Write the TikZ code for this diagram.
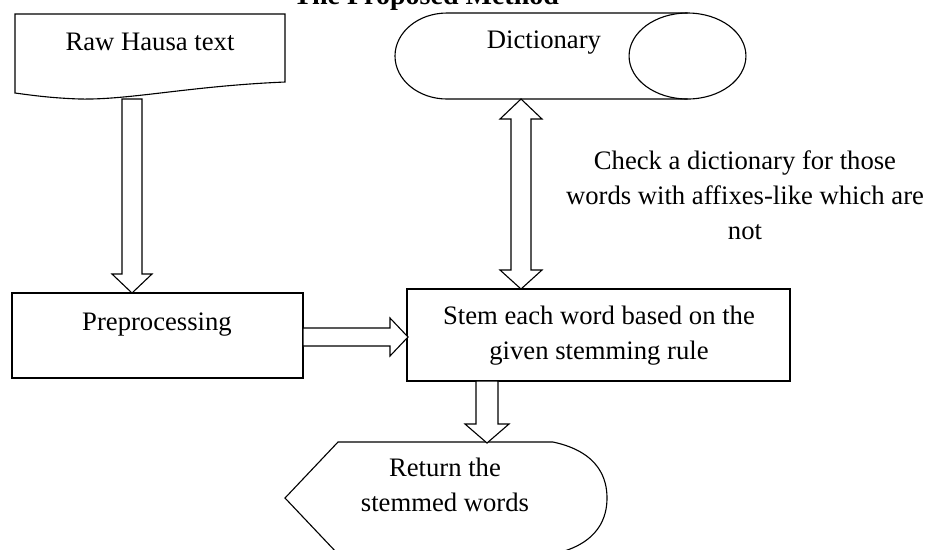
\documentclass[tikz,border=0pt]{standalone}
\usepackage{fontspec}
\setmainfont{Liberation Serif}
\usetikzlibrary{calc}
\begin{document}
\begin{tikzpicture}[x=0.45pt,y=-0.45pt,
  shp/.style={draw=black,line width=0.5pt},
  blk/.style={draw=black,line width=0.5pt,fill=white,line join=miter},
  txt/.style={font=\fontsize{12}{15.75}\selectfont,inner sep=0pt,align=center},
  boxnode/.style={draw=black,line width=0.5pt,inner sep=0pt}]
\useasboundingbox (0,0) rectangle (925,549);
% title (cut off by the page edge)
\node[font=\bfseries\fontsize{12.6}{15}\selectfont,anchor=base west,inner sep=0pt] (title) at (293,4) {The Proposed Method};
% Raw Hausa text (document shape)
\draw[shp] (15,14) -- (285,14) -- (285,82)
  .. controls (190,86) and (130,100) .. (80,99)
  .. controls (50,98) and (30,95) .. (15,93) -- cycle;
\node[txt,anchor=base] (raw) at (150,50) {Raw Hausa text};
% Dictionary (stored data shape)
\draw[shp] (687.5,13) -- (447,13) arc[start angle=90,end angle=270,x radius=23.4pt,y radius=19.35pt] -- (687.5,99);
\draw[shp] (687.5,56) ellipse [x radius=26.3pt,y radius=19.35pt];
\node[txt,anchor=base] (dict) at (544,48) {Dictionary};
% Preprocessing box
\node[boxnode,minimum width=130.95pt,minimum height=38.25pt] (pre) at (157.5,335.5) {};
\node[txt,anchor=base] (pretext) at (157,330) {Preprocessing};
% Stem box
\node[boxnode,minimum width=172.35pt,minimum height=41.4pt] (stem) at (598.5,335) {};
\node[txt] (stemtext) at (599,335.3) {Stem each word based on the\\given stemming rule};
% Check note
\node[txt] (check) at (745,195.4) {Check a dictionary for those\\words with affixes-like which are\\not};
% Return (display shape)
\draw[shp] (338,442) -- (553,442)
  .. controls (600,452) and (607,480) .. (607,498)
  .. controls (607,516) and (600,544) .. (553,554)
  -- (338,554) -- (285,498) -- cycle;
\node[txt] (ret) at (445,485.3) {Return the\\stemmed words};
% block arrows
\draw[blk] (122,99) -- (122,274) -- (112,274) -- (132,293) -- (152,274) -- (142,274) -- (142,99) -- cycle;
\draw[blk] (303,328) -- (390,328) -- (390,318) -- (408,337) -- (390,356) -- (390,346) -- (303,346) -- cycle;
\draw[blk] (521,99) -- (542,119) -- (531,119) -- (531,270) -- (542,270) -- (521,289) -- (500,270) -- (511,270) -- (511,119) -- (500,119) -- cycle;
\draw[blk] (476,381) -- (476,424) -- (465,424) -- (487,443) -- (509,424) -- (498,424) -- (498,381) -- cycle;
\end{tikzpicture}
\end{document}
